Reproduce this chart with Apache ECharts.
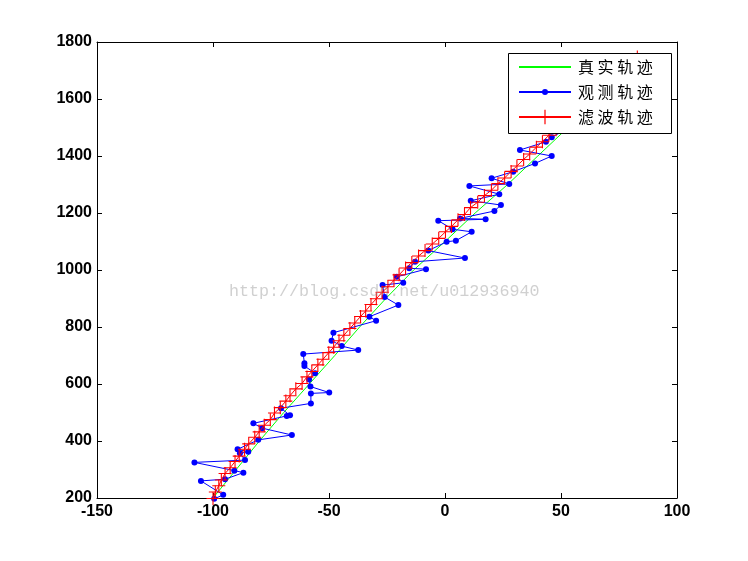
<!DOCTYPE html>
<html>
<head>
<meta charset="utf-8">
<script src="https://cdn.jsdelivr.net/npm/echarts@6/dist/echarts.min.js"></script>
<style>html,body{margin:0;padding:0;background:#fff;}#c{width:748px;height:561px;}</style>
</head>
<body>
<div id="c"></div>
<script>
// ---- data ----
const xTicks = [-150, -100, -50, 0, 50, 100];
const yTicks = [200, 400, 600, 800, 1000, 1200, 1400, 1600, 1800];
const seriesNames = ['真 实 轨 迹', '观 测 轨 迹', '滤 波 轨 迹'];
const watermark = 'http://blog.csdn.net/u012936940';

// true trajectory (green)
const trueX = [-100, -90, -80, -69.5, -58.5, -47.5, -36.8, -25.5, -13.5, 0, 13, 27, 40, 53, 66, 79, 85];
const trueY = [200, 300, 400, 500, 600, 700, 800, 900, 1000, 1100, 1200, 1300, 1400, 1500, 1600, 1700, 1745];

// observed trajectory (blue)
const obsX = [-99.5, -95.6, -105.2, -94.8, -86.9, -90.8, -108, -86.2, -88.4, -84.8,
  -89.4, -80.5, -66, -78.8, -82.6, -68.2, -66.8, -70.7, -57.8, -57.8,
  -49.9, -58, -58.6, -56, -60.6, -60.6, -61.1, -37.4, -44.5, -48.9,
  -48.1, -29.7, -32.6, -20.1, -26, -26.9, -18, -20.8, -8.2, -15.4,
  -12.9, 8.6, -7.2, 0.7, 4.7, 11.5, 3.3, -2.9, 17.5, 6.5,
  21.3, 24.1, 11.1, 23.4, 10.5, 27.7, 20.1, 29.4, 38.8, 46,
  32.3, 43.5, 46, 52, 58, 55, 63, 60, 68, 74,
  70, 78, 81, 86];
const obsY = [197, 211, 260, 266, 289, 296, 325, 333, 357, 362,
  371, 404, 421, 445, 462, 488, 490, 515, 532, 567,
  570, 591, 616, 638, 663, 673, 705, 719, 733, 752,
  780, 822, 836, 877, 905, 947, 955, 976, 1003, 1006,
  1029, 1042, 1068, 1099, 1103, 1134, 1143, 1173, 1178, 1181,
  1207, 1228, 1243, 1266, 1295, 1302, 1322, 1345, 1374, 1400,
  1421, 1450, 1466, 1492, 1515, 1540, 1566, 1590, 1612, 1640,
  1662, 1690, 1712, 1738];

// filtered trajectory (red)
const filtX = [-100, -99.0, -97.5, -96.4, -94.8, -92.6, -90.5, -88.7, -86.4, -84.6,
  -82.0, -80.1, -77.9, -75.3, -73.5, -71.0, -68.6, -66.8, -64.3, -61.6,
  -59.5, -57.4, -54.8, -52.6, -50.1, -48.0, -45.7, -43.6, -41.0, -38.9,
  -36.4, -34.2, -31.9, -29.6, -27.1, -24.6, -22.0, -19.8, -17.0, -14.3,
  -11.4, -8.6, -5.5, -2.7, 0.2, 2.8, 5.6, 8.4, 11.0, 14.1,
  17.0, 20.0, 22.8, 25.7, 28.5, 31.0, 33.9, 36.5, 39.4, 42.0,
  44.8, 47.9, 50.6, 53.5, 56.4, 59.1, 62.0, 65.0, 67.8, 70.9,
  73.8, 76.9, 79.8, 82.9];
const filtY = [198, 221, 243, 263, 286, 306, 328, 347, 371, 390,
  413, 432, 455, 475, 498, 517, 540, 559, 583, 602,
  625, 644, 667, 687, 710, 729, 752, 771, 795, 814,
  837, 856, 879, 899, 922, 941, 964, 983, 1007, 1026,
  1049, 1068, 1091, 1111, 1134, 1153, 1176, 1195, 1219, 1238,
  1261, 1280, 1303, 1323, 1346, 1365, 1388, 1407, 1431, 1450,
  1473, 1492, 1515, 1535, 1558, 1577, 1600, 1619, 1643, 1662,
  1685, 1704, 1727, 1747];

// ---- chart ----
const zip = (a, b) => a.map((v, i) => [v, b[i]]);
const PLUS = 'path://M5.5,0H6.5V5.5H12V6.5H6.5V12H5.5V6.5H0V5.5H5.5Z';
const labelFont = {color: '#000', fontWeight: 'bold', fontSize: 16, fontFamily: 'Liberation Sans, Arial, sans-serif',
  formatter: v => String(v)};
const legText = {color: '#000', fontSize: 16, fontFamily: 'Noto Sans CJK SC', padding: [0, 0, 0, 2]};

function xAx(pos, show) {
  return {type: 'value', position: pos, min: xTicks[0], max: xTicks[xTicks.length - 1], interval: 50,
    axisLine: {show: true, onZero: false, lineStyle: {color: '#000', width: 1}},
    axisTick: {show: true, inside: true, length: 5, lineStyle: {color: '#000'}},
    axisLabel: Object.assign({show: show, margin: 6}, labelFont),
    splitLine: {show: false}};
}
function yAx(pos, show) {
  return {type: 'value', position: pos, min: yTicks[0], max: yTicks[yTicks.length - 1], interval: 200,
    axisLine: {show: true, onZero: false, lineStyle: {color: '#000', width: 1}},
    axisTick: {show: true, inside: true, length: 5, lineStyle: {color: '#000'}},
    axisLabel: Object.assign({show: show, margin: 5}, labelFont),
    splitLine: {show: false}};
}

const chart = echarts.init(document.getElementById('c'), null, {renderer: 'canvas'});
chart.setOption({
  animation: false,
  backgroundColor: '#fff',
  grid: {left: 97, right: 71, top: 42, bottom: 63, containLabel: false},
  xAxis: [xAx('bottom', true), xAx('top', false)],
  yAxis: [yAx('left', true), yAx('right', false)],
  legend: [
    {data: [seriesNames[0]], left: 518, top: 59, orient: 'vertical', itemWidth: 52, itemHeight: 14, padding: 0, textStyle: legText, itemStyle: {opacity: 0}, selectedMode: false, z: 20},
    {data: [seriesNames[1]], left: 518, top: 84, orient: 'vertical', itemWidth: 52, itemHeight: 7.5, padding: 0, textStyle: legText, selectedMode: false, z: 20},
    {data: [seriesNames[2]], left: 518, top: 109, orient: 'vertical', itemWidth: 52, itemHeight: 18, padding: 0, textStyle: legText, selectedMode: false, z: 20}
  ],
  graphic: [
    {type: 'rect', left: 508, top: 53, z: 10, shape: {width: 163, height: 80}, style: {fill: '#fff', stroke: '#000', lineWidth: 1}},
    {type: 'text', left: 229, top: 283, z: 30, style: {text: watermark, fill: 'rgba(150,150,150,0.45)', font: '16.7px "Liberation Mono", monospace'}}
  ],
  series: [
    {name: seriesNames[0], type: 'line', data: zip(trueX, trueY), symbol: 'none', clip: true,
      lineStyle: {color: '#00ff00', width: 1}, itemStyle: {color: '#00ff00'}, z: 2},
    {name: seriesNames[1], type: 'line', data: zip(obsX, obsY), symbol: 'circle', symbolSize: 6, clip: false,
      lineStyle: {color: '#0000ff', width: 1}, itemStyle: {color: '#0000ff'}, z: 3},
    {name: seriesNames[2], type: 'line', data: zip(filtX, filtY), symbol: PLUS, symbolSize: 13, clip: false,
      lineStyle: {color: '#ff0000', width: 1}, itemStyle: {color: '#ff0000'}, z: 4}
  ]
});
</script>
</body>
</html>
